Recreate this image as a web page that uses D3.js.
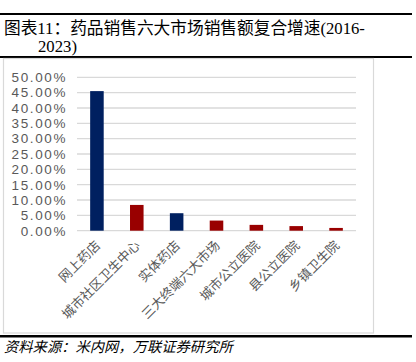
<!DOCTYPE html>
<html>
<head>
<meta charset="utf-8">
<script src="https://cdn.jsdelivr.net/npm/d3@7"></script>
<style>
	body { margin: 0; background: #fff; }
	svg { display: block; }
</style>
</head>
<body>
<div id="chart"></div>
<script>
// 六大市场复合增速 (2016-2023)
var categories = ["网上药店", "城市社区卫生中心", "实体药店", "三大终端六大市场", "城市公立医院", "县公立医院", "乡镇卫生院"];
var growth = [0.455, 0.084, 0.057, 0.033, 0.019, 0.015, 0.009];
var barColors = ["#002060", "#990000", "#002060", "#990000", "#990000", "#990000", "#990000"];
var yTicks = [0, 0.05, 0.10, 0.15, 0.20, 0.25, 0.30, 0.35, 0.40, 0.45, 0.50];
var titleLines = ["图表11：药品销售六大市场销售额复合增速(2016-", "2023)"];
var sourceNote = "资料来源：米内网，万联证券研究所";

function drawChart(node) {
	var width = 416, height = 362;
	var serif = "'Liberation Serif', 'Noto Sans CJK SC', serif";

	var svg = d3.select(node)
		.append("svg")
		.attr("width", width)
		.attr("height", height)

	// title block with rules
	svg.append("rect").attr("x", 0).attr("y", 13).attr("width", 412).attr("height", 2).attr("fill", "#000")
	svg.append("rect").attr("x", 0).attr("y", 56).attr("width", 412).attr("height", 2).attr("fill", "#000")
	svg.append("rect").attr("x", 0).attr("y", 335).attr("width", 412).attr("height", 2.5).attr("fill", "#000")

	svg.selectAll(".title")
		.data(titleLines)
		.enter()
		.append("text")
		.attr("class", "title")
		.attr("x", function (d, i) { return i == 0 ? 4 : 38 })
		.attr("y", function (d, i) { return 34 + i * 18 })
		.style("font-family", serif)
		.style("font-size", "16.7px")
		.attr("fill", "#000")
		.text(function (d) { return d });

	// chart frame
	svg.append("rect")
		.attr("x", 3.5).attr("y", 58.5)
		.attr("width", 370).attr("height", 274.5)
		.attr("fill", "none")
		.attr("stroke", "#d9d9d9")
		.attr("stroke-width", 1.2)

	var x = d3.scaleBand()
		.domain(categories)
		.range([77, 356])
		.paddingInner(0.66)
		.paddingOuter(0.33)

	var y = d3.scaleLinear()
		.domain([0, 0.5])
		.range([230.7, 77.3])

	// gridlines
	svg.append("g")
		.selectAll("line")
		.data(yTicks)
		.enter()
		.append("line")
		.attr("x1", 77)
		.attr("x2", 356)
		.attr("y1", function (d) { return y(d) })
		.attr("y2", function (d) { return y(d) })
		.attr("stroke", "#d9d9d9")
		.attr("stroke-width", 1.3)

	var yAxis = svg.append("g")
		.attr("transform", "translate(77,0)")
		.call(d3.axisLeft(y).tickValues(yTicks).tickSize(0).tickPadding(10)
			.tickFormat(function (d) { return d3.format(".2%")(d) }))
	yAxis.select(".domain").remove()
	yAxis.selectAll("text")
		.style("font-family", "'Liberation Sans', Arial, sans-serif")
		.style("font-size", "13.5px")
		.style("letter-spacing", "1.6px")
		.attr("fill", "#595959")

	svg.append("g")
		.selectAll("rect")
		.data(growth)
		.enter()
		.append("rect")
		.attr("x", function (d, i) { return x(categories[i]) })
		.attr("width", x.bandwidth())
		.attr("y", function (d) { return y(d) })
		.attr("height", function (d) { return y(0) - y(d) })
		.attr("fill", function (d, i) { return barColors[i] })

	// rotated category labels
	svg.append("g")
		.selectAll("text")
		.data(categories)
		.enter()
		.append("text")
		.attr("transform", function (d) {
			var cx = x(d) + x.bandwidth() / 2;
			return "translate(" + (cx + 1) + ",243) rotate(-45)";
		})
		.attr("text-anchor", "end")
		.attr("dy", "0.35em")
		.style("font-family", serif)
		.style("font-size", "13px")
		.attr("fill", "#595959")
		.text(function (d) { return d });

	svg.append("text")
		.attr("x", 4)
		.attr("y", 352)
		.style("font-family", serif)
		.style("font-size", "14.3px")
		.style("font-style", "italic")
		.attr("fill", "#000")
		.text(sourceNote);
}

drawChart(document.getElementById("chart"));
</script>
</body>
</html>
